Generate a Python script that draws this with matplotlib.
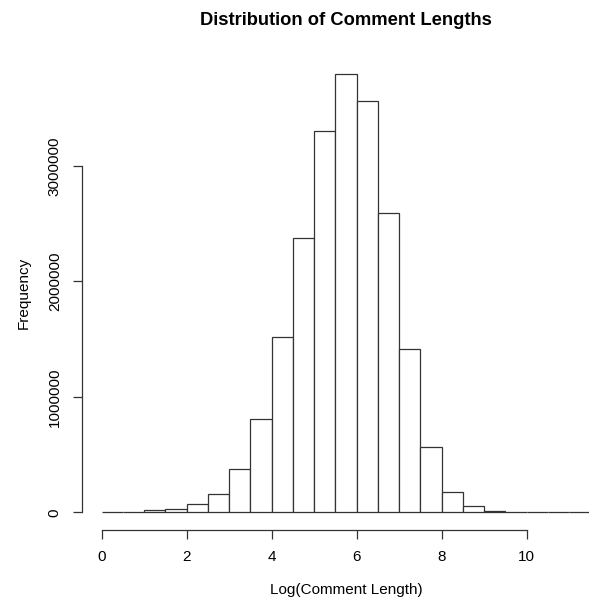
import numpy as np
import matplotlib
matplotlib.use("Agg")
import matplotlib.pyplot as plt

plt.rcParams['font.family'] = ['Liberation Sans', 'DejaVu Sans']

# histogram of log comment lengths (bins of 0.5)
bin_edges = np.arange(0, 11.51, 0.5)
counts = [0, 6000, 20000, 29000, 72000, 162000, 379000, 809000,
          1520000, 2375000, 3300000, 3800000, 3560000, 2593000, 1414000,
          564000, 173000, 52000, 14000, 4000, 1500, 400, 100]
x_ticks = [0, 2, 4, 6, 8, 10]
y_ticks = [0, 1000000, 2000000, 3000000]

W, H = 589, 604
fig = plt.figure(figsize=(W / 100, H / 100), dpi=100)
# plot region like R's default (it runs past the right edge of the crop)
ax = fig.add_axes([82 / W, (H - 530) / H, 528 / W, 474 / H])

line_col = '#333333'
ax.bar(bin_edges[:-1], counts, width=0.5, align='edge',
       facecolor='white', edgecolor=line_col, linewidth=0.9)

ax.set_xlim(-0.46, 11.96)
ax.set_ylim(-152000, 3952000)

for s in ['top', 'right']:
    ax.spines[s].set_visible(False)
ax.spines['left'].set_bounds(0, 3000000)
ax.spines['bottom'].set_bounds(0, 10)
for s in ['left', 'bottom']:
    ax.spines[s].set_color(line_col)
    ax.spines[s].set_linewidth(0.9)

ax.set_xticks(x_ticks)
ax.set_xticklabels([str(t) for t in x_ticks])
ax.set_yticks(y_ticks)
ax.set_yticklabels([str(t) for t in y_ticks], rotation=90, va='center')
ax.tick_params(length=6.5, width=0.9, color=line_col, labelsize=11, pad=8)

ax.set_xlabel('Log(Comment Length)', fontsize=11, labelpad=13.5)
ax.set_ylabel('Frequency', fontsize=11, labelpad=12)
ax.set_title('Distribution of Comment Lengths', fontsize=13.2,
             fontweight='bold', pad=22)

fig.savefig('out.png', dpi=100)
